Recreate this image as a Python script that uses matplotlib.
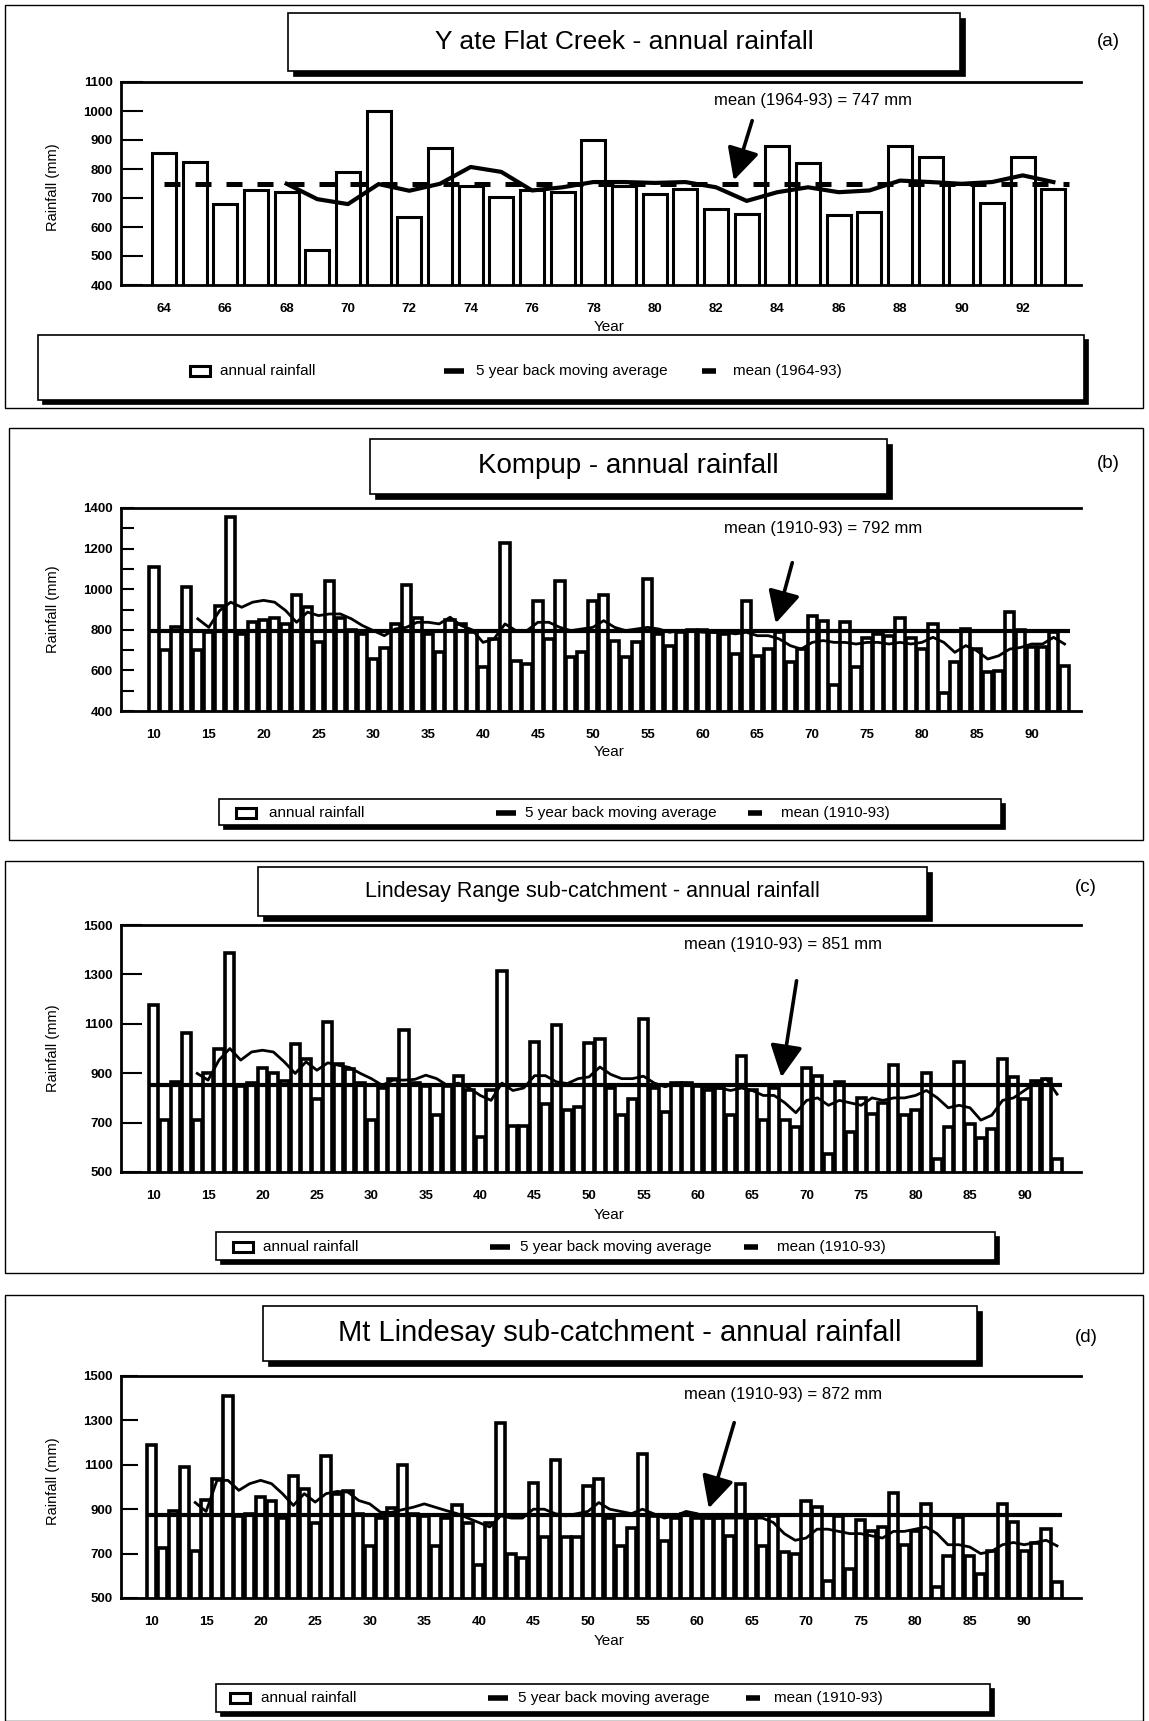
import matplotlib
matplotlib.use('Agg')
import matplotlib.pyplot as plt
from matplotlib.patches import Rectangle, FancyArrowPatch
from matplotlib.lines import Line2D

# ---------------- data ----------------
years_a = list(range(1964, 1994))
rain_a = [855, 825, 681, 728, 720, 522, 790, 1000, 633, 871, 743, 702, 726, 720, 899,
          740, 714, 731, 662, 644, 880, 820, 642, 653, 880, 842, 749, 684, 842, 731]
ma_years_a = list(range(1968, 1994))
ma_a = [749, 696, 679, 748, 725, 749, 807, 790, 726, 737, 755, 755, 752, 755, 737,
        690, 720, 737, 720, 726, 760, 755, 749, 755, 778, 755]
mean_a = 747

years_long = list(range(1910, 1994))
ma_years_long = list(range(1914, 1994))

rain_b = [1110, 700, 812, 1010, 700, 790, 915, 1355, 780, 837,
          850, 857, 829, 969, 911, 740, 1039, 860, 800, 780,
          656, 710, 829, 1022, 857, 780, 690, 850, 829, 790,
          615, 755, 1230, 648, 630, 940, 755, 1039, 664, 689,
          940, 969, 747, 664, 741, 1052, 780, 720, 790, 800,
          800, 790, 780, 680, 940, 670, 705, 790, 640, 705,
          870, 845, 530, 840, 615, 760, 780, 770, 857, 760,
          705, 829, 490, 640, 804, 705, 590, 598, 887, 801,
          713, 713, 788, 623]
ma_b = [854, 812, 895, 936, 911, 936, 945, 936, 895, 837,
        887, 870, 878, 878, 854, 821, 796, 771, 804, 812,
        837, 837, 829, 862, 821, 800, 738, 755, 829, 796,
        796, 837, 837, 812, 796, 804, 812, 845, 812, 796,
        804, 812, 804, 788, 796, 796, 788, 788, 788, 780,
        788, 771, 771, 755, 722, 705, 738, 747, 738, 738,
        730, 738, 738, 730, 738, 730, 738, 763, 738, 689,
        722, 697, 656, 672, 705, 713, 730, 730, 763, 730]
mean_b = 792

rain_c = [1176, 709, 865, 1064, 709, 900, 996, 1388, 850, 860,
          923, 901, 870, 1018, 959, 797, 1108, 939, 919, 860,
          709, 840, 878, 1074, 860, 850, 730, 850, 888, 830,
          640, 830, 1315, 685, 685, 1027, 777, 1097, 750, 764,
          1024, 1038, 840, 730, 797, 1119, 840, 743, 860, 860,
          850, 830, 840, 730, 969, 830, 709, 840, 709, 682,
          923, 888, 574, 865, 662, 800, 736, 780, 932, 730,
          753, 899, 554, 682, 946, 693, 639, 676, 959, 885,
          797, 870, 878, 554]
ma_c = [899, 872, 953, 1000, 953, 986, 993, 986, 946, 899,
        946, 912, 942, 932, 923, 899, 878, 851, 872, 872,
        875, 892, 878, 850, 860, 840, 810, 790, 860, 830,
        840, 890, 890, 865, 858, 878, 885, 925, 895, 878,
        878, 888, 860, 845, 860, 860, 850, 840, 840, 830,
        840, 830, 810, 810, 780, 740, 790, 800, 770, 790,
        780, 770, 800, 790, 800, 800, 810, 830, 800, 760,
        770, 760, 710, 730, 790, 800, 830, 860, 878, 815]
mean_c = 851

rain_d = [1189, 727, 894, 1088, 712, 940, 1038, 1412, 870, 880,
          955, 939, 860, 1048, 992, 840, 1141, 970, 980, 880,
          735, 860, 905, 1098, 880, 870, 735, 859, 917, 840,
          647, 840, 1288, 697, 682, 1020, 773, 1121, 773, 773,
          1005, 1038, 860, 735, 814, 1147, 870, 758, 860, 880,
          860, 860, 860, 780, 1015, 860, 735, 870, 705, 697,
          935, 909, 576, 871, 629, 850, 800, 820, 974, 738,
          800, 924, 550, 689, 864, 689, 606, 712, 924, 841,
          712, 750, 811, 571]
ma_d = [930, 890, 1030, 1030, 985, 1015, 1030, 1015, 970, 917,
        970, 932, 970, 980, 977, 939, 924, 886, 886, 898,
        909, 924, 909, 894, 880, 860, 840, 820, 870, 860,
        860, 900, 900, 880, 870, 880, 890, 930, 900, 890,
        880, 900, 880, 860, 870, 890, 880, 860, 860, 860,
        860, 860, 860, 840, 790, 760, 770, 810, 810, 800,
        790, 790, 780, 770, 800, 800, 810, 820, 790, 740,
        740, 730, 700, 710, 740, 750, 740, 750, 760, 735]
mean_d = 872

titles = ["Y ate Flat Creek - annual rainfall", "Kompup - annual rainfall",
          "Lindesay Range sub-catchment - annual rainfall",
          "Mt Lindesay sub-catchment - annual rainfall"]
tags = ["(a)", "(b)", "(c)", "(d)"]
notes = ["mean (1964-93) = 747 mm", "mean (1910-93) = 792 mm",
         "mean (1910-93) = 851 mm", "mean (1910-93) = 872 mm"]
legend_labels_a = ["annual rainfall", "5 year back moving average", "mean (1964-93)"]
legend_labels_long = ["annual rainfall", "5 year back moving average", "mean (1910-93)"]

# ---------------- figure ----------------
W, H = 1149, 1721
plt.rcParams['font.family'] = ['Liberation Sans', 'DejaVu Sans']
fig = plt.figure(figsize=(W / 100, H / 100), dpi=100)


def fx(x):
    return x / W


def fy(y):
    return 1 - y / H


def axrect(x0, y0, x1, y1):
    return [x0 / W, 1 - y1 / H, (x1 - x0) / W, (y1 - y0) / H]


def rect(x0, y0, x1, y1, fc='none', ec='black', lw=1.0, z=1):
    fig.patches.append(Rectangle((fx(x0), fy(y1)), (x1 - x0) / W, (y1 - y0) / H,
                                 transform=fig.transFigure, facecolor=fc,
                                 edgecolor=ec, lw=lw, zorder=z))


def shadow_box(x0, y0, x1, y1, sh=5):
    rect(x0 + sh, y0 + sh, x1 + sh, y1 + sh, fc='black', ec='black', lw=0.5, z=1)
    rect(x0, y0, x1, y1, fc='white', ec='black', lw=1.2, z=2)


def hline_fig(x0, x1, y, lw, z=4):
    fig.add_artist(Line2D([fx(x0), fx(x1)], [fy(y), fy(y)], transform=fig.transFigure,
                          color='black', lw=lw, solid_capstyle='butt', zorder=z))


def arrow(x0, y0, x1, y1):
    fig.add_artist(FancyArrowPatch((fx(x0), fy(y0)), (fx(x1), fy(y1)),
                                   transform=fig.transFigure,
                                   arrowstyle='-|>,head_length=0.75,head_width=0.38',
                                   mutation_scale=26, lw=2.6, color='black', zorder=5))


def legend(box, ys, icon_x, text_x, labels, fs):
    shadow_box(*box, sh=4)
    rect(icon_x[0], ys - 5, icon_x[0] + 20, ys + 5, fc='white', ec='black', lw=2.2, z=4)
    hline_fig(icon_x[1], icon_x[1] + 20, ys, 4.0)
    hline_fig(icon_x[2], icon_x[2] + 14, ys, 4.0)
    for tx, lab in zip(text_x, labels):
        fig.text(fx(tx), fy(ys), lab, ha='left', va='center', fontsize=fs, zorder=5)


def panel(axbox, years, rain, ma_years, ma, mean, ylim, yticks, yminor, xticks,
          xlim, bar_w, bar_lw, dashed, ma_lw, mean_lw, tick_len, ylab_xy, year_y):
    ax = fig.add_axes(axrect(*axbox))
    ax.bar(years, rain, width=bar_w, color='white', edgecolor='black',
           linewidth=bar_lw, zorder=2)
    if dashed:
        ax.hlines(mean, years[0], years[-1] + 0.5, colors='black', lw=mean_lw,
                  linestyles=(0, (3.2, 3.0)), zorder=3)
    else:
        ax.hlines(mean, years[0] - 0.5, years[-1] + 0.5, colors='black', lw=mean_lw,
                  zorder=3)
    ax.plot(ma_years, ma, color='black', lw=ma_lw, zorder=4, solid_joinstyle='round')
    ax.set_xlim(*xlim)
    ax.set_ylim(*ylim)
    ax.set_yticks(yticks)
    ax.set_yticklabels([str(v) for v in yticks], fontsize=9.5, fontweight='bold')
    if yminor is not None:
        ax.set_yticks(yminor, minor=True)
        ax.tick_params(axis='y', which='minor', direction='in', length=tick_len,
                       width=1.5)
    ax.set_xticks(xticks)
    ax.set_xticklabels(['%02d' % (v % 100) for v in xticks], fontsize=9.5,
                       fontweight='bold')
    ax.tick_params(axis='y', which='major', direction='in', length=tick_len, width=1.5,
                   pad=6)
    ax.tick_params(axis='x', length=0, pad=13)
    ax.spines['right'].set_visible(False)
    for s in ['left', 'top', 'bottom']:
        ax.spines[s].set_linewidth(2.0)
    fig.text(fx(ylab_xy[0]), fy(ylab_xy[1]), 'Rainfall (mm)', rotation=90,
             ha='center', va='center', fontsize=10.5)
    fig.text(fx((axbox[0] + axbox[2]) / 2 + 8), fy(year_y), 'Year', ha='center',
             va='center', fontsize=11)
    return ax


# panel frames
rect(5, 5, 1143, 408, lw=1.0, z=0)
rect(9, 428, 1143, 840, lw=1.0, z=0)
rect(5, 861, 1143, 1273, lw=1.0, z=0)
rect(5, 1295, 1143, 1721, lw=1.0, z=0)

# ---------------- panel (a) ----------------
panel((121, 82, 1081, 285), years_a, rain_a, ma_years_a, ma_a, mean_a,
      (400, 1100), list(range(400, 1101, 100)), None, list(range(1964, 1993, 2)),
      (1962.6, 1993.9), 0.78, 2.2, True, 3.0, 3.6, 16, (53, 187), 327)
shadow_box(288, 13, 960, 71, sh=5)
fig.text(fx(624), fy(42), titles[0], ha='center', va='center', fontsize=19, zorder=5)
fig.text(fx(1108), fy(41), tags[0], ha='center', va='center', fontsize=13.5)
fig.text(fx(813), fy(101), notes[0], ha='center', va='center', fontsize=12)
arrow(753, 118, 733, 183)
legend((38, 335, 1084, 400), 371, (190, 444, 702), (220, 476, 733), legend_labels_a, 11)

# ---------------- panel (b) ----------------
panel((121, 508, 1081, 711), years_long, rain_b, ma_years_long, ma_b, mean_b,
      (400, 1400), list(range(400, 1401, 200)), list(range(500, 1400, 200)),
      list(range(1910, 1991, 5)), (1907.0, 1994.5), 0.85, 2.6, False, 2.0, 3.0, 9,
      (53, 609), 752)
shadow_box(370, 439, 887, 494, sh=5)
fig.text(fx(628), fy(466), titles[1], ha='center', va='center', fontsize=20, zorder=5)
fig.text(fx(1108), fy(463), tags[1], ha='center', va='center', fontsize=13.5)
fig.text(fx(823), fy(529), notes[1], ha='center', va='center', fontsize=12)
arrow(793, 560, 775, 626)
legend((219, 799, 1001, 825), 813, (236, 496, 748), (269, 525, 781), legend_labels_long, 11)

# ---------------- panel (c) ----------------
panel((121, 925, 1081, 1172), years_long, rain_c, ma_years_long, ma_c, mean_c,
      (500, 1500), list(range(500, 1501, 200)), None,
      list(range(1910, 1991, 5)), (1907.0, 1995.2), 0.85, 2.6, False, 2.0, 3.0, 15,
      (53, 1048), 1215)
shadow_box(258, 867, 927, 916, sh=5)
fig.text(fx(592), fy(892), titles[2], ha='center', va='center', fontsize=15.5, zorder=5)
fig.text(fx(1086), fy(887), tags[2], ha='center', va='center', fontsize=13.5)
fig.text(fx(783), fy(944), notes[2], ha='center', va='center', fontsize=12)
arrow(797, 978, 781, 1080)
legend((216, 1232, 995, 1260), 1247, (233, 490, 744), (263, 520, 777), legend_labels_long, 11)

# ---------------- panel (d) ----------------
panel((121, 1376, 1081, 1598), years_long, rain_d, ma_years_long, ma_d, mean_d,
      (500, 1500), list(range(500, 1501, 200)), None,
      list(range(1910, 1991, 5)), (1907.2, 1995.2), 0.85, 2.6, False, 2.0, 3.0, 12,
      (53, 1481), 1641)
shadow_box(263, 1306, 977, 1361, sh=5)
fig.text(fx(620), fy(1333), titles[3], ha='center', va='center', fontsize=21, zorder=5)
fig.text(fx(1086), fy(1337), tags[3], ha='center', va='center', fontsize=13.5)
fig.text(fx(783), fy(1394), notes[3], ha='center', va='center', fontsize=12)
arrow(735, 1420, 708, 1511)
legend((216, 1684, 990, 1712), 1698, (230, 488, 746), (261, 518, 774), legend_labels_long, 11)

fig.savefig('out.png', dpi=100, facecolor='white')
